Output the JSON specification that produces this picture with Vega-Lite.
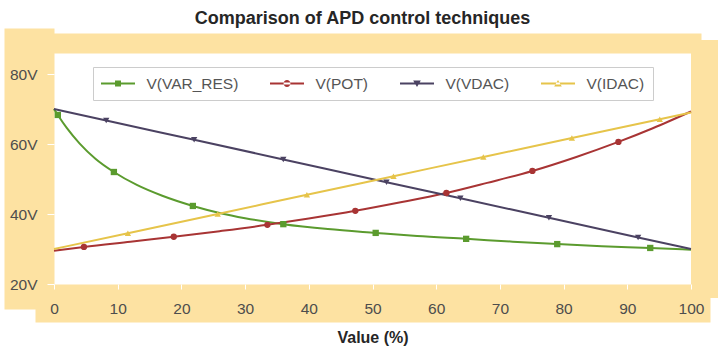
{
  "$schema": "https://vega.github.io/schema/vega-lite/v6.json",
  "width": 637,
  "height": 231,
  "autosize": "none",
  "padding": {"left": 54, "top": 53, "right": 29, "bottom": 68},
  "background": "white",
  "title": {
    "text": "Comparison of APD control techniques",
    "font": "Liberation Sans",
    "fontSize": 18,
    "fontWeight": "bold",
    "color": "#262626",
    "anchor": "middle",
    "offset": 15,
    "dx": -10
  },
  "config": {
    "view": {"fill": "white", "stroke": null},
    "axis": {
      "grid": false,
      "ticks": false,
      "labelFont": "Liberation Sans",
      "labelFontSize": 15.5,
      "labelColor": "#4d4d4d",
      "domainColor": "#fde2a2",
      "domainCap": "square",
      "tickColor": "#ffffff"
    }
  },
  "data": {
    "values": [
      {"s": "V(VAR_RES)", "x": 0, "v": 70, "m": 0},
      {"s": "V(VAR_RES)", "x": 0.6, "v": 68.3, "m": 1},
      {"s": "V(VAR_RES)", "x": 2, "v": 64.6, "m": 0},
      {"s": "V(VAR_RES)", "x": 4, "v": 60.2, "m": 0},
      {"s": "V(VAR_RES)", "x": 6.5, "v": 55.8, "m": 0},
      {"s": "V(VAR_RES)", "x": 9.4, "v": 52, "m": 1},
      {"s": "V(VAR_RES)", "x": 13, "v": 48.3, "m": 0},
      {"s": "V(VAR_RES)", "x": 17, "v": 45.2, "m": 0},
      {"s": "V(VAR_RES)", "x": 21.8, "v": 42.3, "m": 1},
      {"s": "V(VAR_RES)", "x": 26, "v": 40.3, "m": 0},
      {"s": "V(VAR_RES)", "x": 30, "v": 38.8, "m": 0},
      {"s": "V(VAR_RES)", "x": 36, "v": 37.1, "m": 1},
      {"s": "V(VAR_RES)", "x": 43, "v": 35.7, "m": 0},
      {"s": "V(VAR_RES)", "x": 50.5, "v": 34.6, "m": 1},
      {"s": "V(VAR_RES)", "x": 57, "v": 33.7, "m": 0},
      {"s": "V(VAR_RES)", "x": 64.7, "v": 32.9, "m": 1},
      {"s": "V(VAR_RES)", "x": 72, "v": 32.1, "m": 0},
      {"s": "V(VAR_RES)", "x": 79, "v": 31.4, "m": 1},
      {"s": "V(VAR_RES)", "x": 86, "v": 30.8, "m": 0},
      {"s": "V(VAR_RES)", "x": 93.6, "v": 30.3, "m": 1},
      {"s": "V(VAR_RES)", "x": 100, "v": 29.8, "m": 0},
      {"s": "V(POT)", "x": 0, "v": 29.5, "m": 0},
      {"s": "V(POT)", "x": 4.7, "v": 30.6, "m": 1},
      {"s": "V(POT)", "x": 12, "v": 32.1, "m": 0},
      {"s": "V(POT)", "x": 18.8, "v": 33.5, "m": 1},
      {"s": "V(POT)", "x": 26, "v": 35.1, "m": 0},
      {"s": "V(POT)", "x": 33.5, "v": 36.9, "m": 1},
      {"s": "V(POT)", "x": 40, "v": 38.7, "m": 0},
      {"s": "V(POT)", "x": 47.3, "v": 40.9, "m": 1},
      {"s": "V(POT)", "x": 54, "v": 43.2, "m": 0},
      {"s": "V(POT)", "x": 61.6, "v": 46.0, "m": 1},
      {"s": "V(POT)", "x": 68, "v": 48.9, "m": 0},
      {"s": "V(POT)", "x": 75.1, "v": 52.3, "m": 1},
      {"s": "V(POT)", "x": 82, "v": 56.3, "m": 0},
      {"s": "V(POT)", "x": 88.6, "v": 60.6, "m": 1},
      {"s": "V(POT)", "x": 94, "v": 64.5, "m": 0},
      {"s": "V(POT)", "x": 100, "v": 69.3, "m": 0},
      {"s": "V(VDAC)", "x": 0, "v": 70, "m": 0},
      {"s": "V(VDAC)", "x": 8.2, "v": 66.7, "m": 1},
      {"s": "V(VDAC)", "x": 22, "v": 61.2, "m": 1},
      {"s": "V(VDAC)", "x": 36, "v": 55.6, "m": 1},
      {"s": "V(VDAC)", "x": 52.2, "v": 49.1, "m": 1},
      {"s": "V(VDAC)", "x": 63.8, "v": 44.5, "m": 1},
      {"s": "V(VDAC)", "x": 77.7, "v": 38.9, "m": 1},
      {"s": "V(VDAC)", "x": 91.7, "v": 33.3, "m": 1},
      {"s": "V(VDAC)", "x": 100, "v": 30, "m": 0},
      {"s": "V(IDAC)", "x": 0, "v": 30, "m": 0},
      {"s": "V(IDAC)", "x": 11.6, "v": 34.5, "m": 1},
      {"s": "V(IDAC)", "x": 25.7, "v": 40.0, "m": 1},
      {"s": "V(IDAC)", "x": 39.7, "v": 45.5, "m": 1},
      {"s": "V(IDAC)", "x": 53.3, "v": 50.8, "m": 1},
      {"s": "V(IDAC)", "x": 67.4, "v": 56.3, "m": 1},
      {"s": "V(IDAC)", "x": 81.3, "v": 61.7, "m": 1},
      {"s": "V(IDAC)", "x": 95.1, "v": 67.1, "m": 1},
      {"s": "V(IDAC)", "x": 100, "v": 69, "m": 0}
    ]
  },
  "layer": [
    {
      "mark": {"type": "line", "interpolate": "monotone", "strokeWidth": 2},
      "encoding": {
        "x": {
          "field": "x",
          "type": "quantitative",
          "scale": {"domain": [0, 100], "nice": false},
          "axis": {
            "orient": "bottom",
            "offset": 19,
            "domainWidth": 38,
            "labels": false,
            "title": null
          }
        },
        "y": {
          "field": "v",
          "type": "quantitative",
          "scale": {"domain": [20, 86], "nice": false},
          "axis": {
            "orient": "left",
            "offset": 25,
            "domainWidth": 50,
            "labels": false,
            "title": null
          }
        },
        "color": {
          "field": "s",
          "type": "nominal",
          "scale": {
            "domain": ["V(VAR_RES)", "V(POT)", "V(VDAC)", "V(IDAC)"],
            "range": ["#5b9b2e", "#a83434", "#4b4262", "#e6c44a"]
          },
          "legend": null
        }
      }
    },
    {
      "transform": [{"filter": "datum.m == 1"}],
      "mark": {"type": "point", "filled": true, "opacity": 1, "size": 40},
      "encoding": {
        "x": {
          "field": "x",
          "type": "quantitative",
          "scale": {"domain": [0, 100], "nice": false},
          "axis": {
            "orient": "bottom",
            "zindex": 1,
            "domain": false,
            "ticks": true,
            "tickSize": 5,
            "values": [0, 10, 20, 30, 40, 50, 60, 70, 80, 90, 100],
            "labelPadding": 12,
            "labelFlush": false,
            "title": "Value (%)",
            "titleFont": "Liberation Sans",
            "titleFontSize": 16,
            "titleFontWeight": "bold",
            "titleColor": "#262626",
            "titlePadding": 13
          }
        },
        "y": {
          "field": "v",
          "type": "quantitative",
          "scale": {"domain": [20, 86], "nice": false},
          "axis": {
            "orient": "left",
            "zindex": 1,
            "domain": false,
            "ticks": true,
            "tickSize": 7,
            "values": [20, 40, 60, 80],
            "labelExpr": "datum.value + 'V'",
            "labelPadding": 10,
            "title": null
          }
        },
        "color": {
          "field": "s",
          "type": "nominal",
          "scale": {
            "domain": ["V(VAR_RES)", "V(POT)", "V(VDAC)", "V(IDAC)"],
            "range": ["#5b9b2e", "#a83434", "#4b4262", "#e6c44a"]
          },
          "legend": null
        },
        "shape": {
          "field": "s",
          "type": "nominal",
          "scale": {
            "domain": ["V(VAR_RES)", "V(POT)", "V(VDAC)", "V(IDAC)"],
            "range": ["square", "circle", "triangle-down", "triangle-up"]
          },
          "legend": null
        }
      }
    },
    {
      "transform": [{"filter": "datum.m == 9"}],
      "mark": {"type": "point", "filled": true, "opacity": 1},
      "encoding": {
        "x": {
          "field": "x",
          "type": "quantitative",
          "scale": {"domain": [0, 100], "nice": false},
          "axis": {
            "orient": "top",
            "offset": 10,
            "domainWidth": 20,
            "labels": false,
            "title": null
          }
        },
        "y": {
          "field": "v",
          "type": "quantitative",
          "scale": {"domain": [20, 86], "nice": false},
          "axis": {
            "orient": "right",
            "offset": 13,
            "domainWidth": 27,
            "labels": false,
            "title": null
          }
        },
        "color": {
          "field": "s",
          "type": "nominal",
          "scale": {
            "domain": ["V(VAR_RES)", "V(POT)", "V(VDAC)", "V(IDAC)"],
            "range": ["#5b9b2e", "#a83434", "#4b4262", "#e6c44a"]
          },
          "legend": {
            "orient": "none",
            "legendX": 39,
            "legendY": 14,
            "direction": "horizontal",
            "columns": 4,
            "title": null,
            "symbolSize": 289,
            "symbolStrokeWidth": 0,
            "symbolOffset": 8.5,
            "symbolOpacity": 1,
            "labelFont": "Liberation Sans",
            "labelFontSize": 15.5,
            "labelColor": "#555555",
            "labelOffset": 20,
            "columnPadding": 31,
            "padding": 8,
            "strokeColor": "#cccccc",
            "fillColor": "white",
            "gridAlign": "none"
          }
        },
        "shape": {
          "field": "s",
          "type": "nominal",
          "scale": {
            "domain": ["V(VAR_RES)", "V(POT)", "V(VDAC)", "V(IDAC)"],
            "range": [
              "M-2,-0.12H2V0.12H-2ZM-0.35,-0.35H0.35V0.35H-0.35Z",
              "M-2,-0.12H2V0.12H-2ZM-0.4,0A0.4,0.4,0,1,0,0.4,0A0.4,0.4,0,1,0,-0.4,0Z",
              "M-2,-0.12H2V0.12H-2ZM-0.45,-0.35H0.45L0,0.42Z",
              "M-2,-0.12H2V0.12H-2ZM-0.45,0.35H0.45L0,-0.42Z"
            ]
          },
          "legend": {
            "orient": "none",
            "legendX": 39,
            "legendY": 14,
            "direction": "horizontal",
            "columns": 4,
            "title": null,
            "symbolSize": 289,
            "symbolStrokeWidth": 0,
            "symbolOffset": 8.5,
            "symbolOpacity": 1,
            "labelFont": "Liberation Sans",
            "labelFontSize": 15.5,
            "labelColor": "#555555",
            "labelOffset": 20,
            "columnPadding": 31,
            "padding": 8,
            "strokeColor": "#cccccc",
            "fillColor": "white",
            "gridAlign": "none"
          }
        }
      }
    }
  ],
  "resolve": {
    "axis": {"x": "independent", "y": "independent"},
    "scale": {"color": "independent", "shape": "independent"}
  }
}
